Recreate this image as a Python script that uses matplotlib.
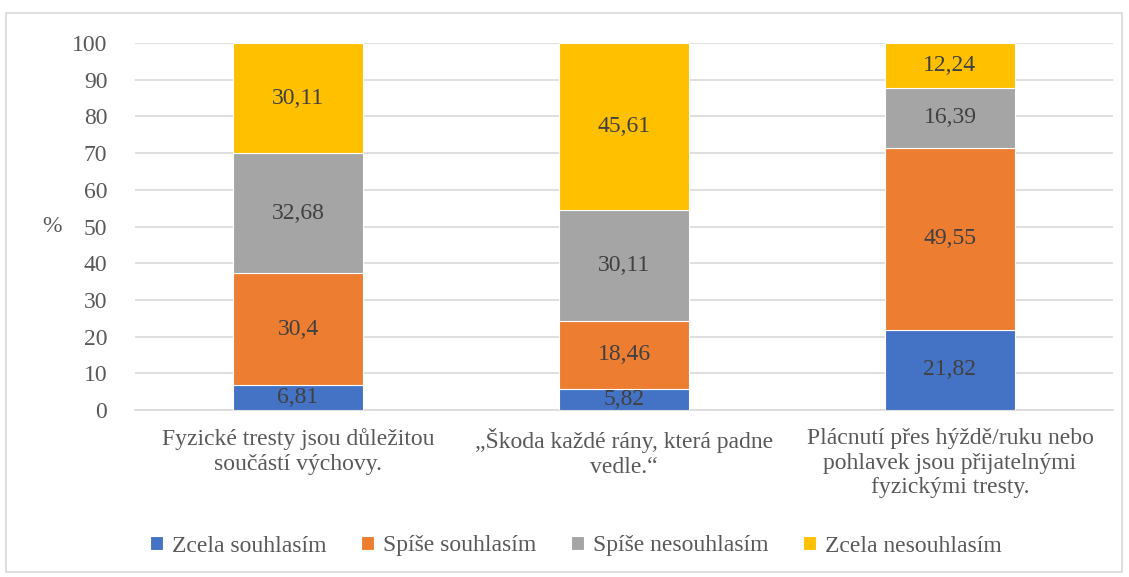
import numpy as np
import matplotlib.pyplot as plt
from matplotlib.patches import Rectangle

SERIF = 'Liberation Serif'
plt.rcParams['font.family'] = 'serif'
plt.rcParams['font.serif'] = [SERIF, 'DejaVu Serif']

# Data
categories = [
    "Fyzické tresty jsou důležitou\nsoučástí výchovy.",
    "„Škoda každé rány, která padne\nvedle.“",
    "Plácnutí přes hýždě/ruku nebo\npohlavek jsou přijatelnými\nfyzickými tresty.",
]
series_names = ["Zcela souhlasím", "Spíše souhlasím", "Spíše nesouhlasím", "Zcela nesouhlasím"]
zcela_souhlasim = [6.81, 5.82, 21.82]
spise_souhlasim = [30.4, 18.46, 49.55]
spise_nesouhlasim = [32.68, 30.11, 16.39]
zcela_nesouhlasim = [30.11, 45.61, 12.24]
colors = ['#4472C4', '#ED7D31', '#A5A5A5', '#FFC000']

series = [zcela_souhlasim, spise_souhlasim, spise_nesouhlasim, zcela_nesouhlasim]

TEXT = '#595959'
LABEL = '#404040'
FS = 17

fig = plt.figure(figsize=(11.29, 5.77), dpi=100)
ax = fig.add_axes([0.1196, 0.2894, 0.8662, 0.6361])

x = np.arange(len(categories))
bottom = np.zeros(len(categories))
for name, vals, col in zip(series_names, series, colors):
    bars = ax.bar(x, vals, 0.4, bottom=bottom, color=col, edgecolor='white',
                  linewidth=0.8, label=name, zorder=3)
    for b, v, btm in zip(bars, vals, bottom):
        txt = f"{v:g}".replace('.', ',')
        ax.text(b.get_x() + b.get_width() / 2, btm + v / 2, txt, family=SERIF,
                ha='center', va='center', fontsize=FS, color=LABEL, zorder=4)
    bottom += np.array(vals)

ax.set_xlim(-0.5, 2.5)
ax.set_ylim(0, 100)
ax.set_yticks(range(0, 101, 10))
ax.yaxis.grid(True, color='#D9D9D9', linewidth=1.2, zorder=0)
ax.set_xticks(x)
ax.set_xticklabels(categories, fontsize=FS, color=TEXT, linespacing=1.22, family=SERIF)
for t in ax.get_yticklabels():
    t.set_family(SERIF)
ax.tick_params(axis='y', labelsize=FS, labelcolor=TEXT, length=0, pad=20)
ax.tick_params(axis='x', length=0, pad=13)
for s in ['top', 'right', 'left']:
    ax.spines[s].set_visible(False)
ax.spines['bottom'].set_color('#D9D9D9')
ax.spines['bottom'].set_linewidth(1.2)

fig.text(52 / 1129, 1 - 227 / 577, '%', fontsize=FS, color=TEXT, ha='center', va='center',
         family=SERIF)

fig.legend(loc='center', bbox_to_anchor=(0.51, 1 - 546 / 577), ncol=4, frameon=False,
           prop={'family': SERIF, 'size': FS}, labelcolor=TEXT,
           handlelength=0.55, handleheight=0.55, handletextpad=0.4, columnspacing=1.45)

fig.patches.append(Rectangle((6 / 1129, 5 / 577), 1116 / 1129, 559 / 577,
                             transform=fig.transFigure, fill=False,
                             edgecolor='#D9D9D9', linewidth=1.2))

fig.savefig('out.png', dpi=100)
